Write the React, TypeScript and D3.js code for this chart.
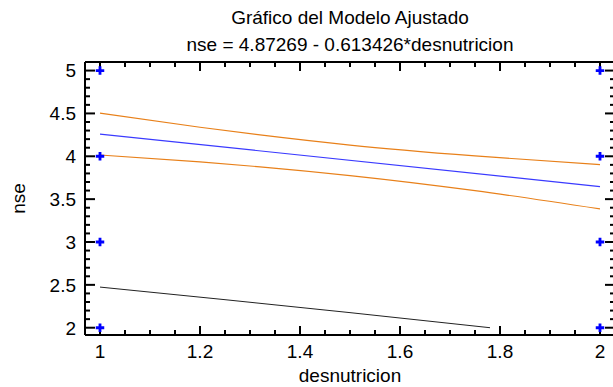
import React, { useEffect, useRef } from "react";
import * as d3 from "d3";

const W = 613;
const H = 387;

const title = "Gráfico del Modelo Ajustado";
const subtitle = "nse = 4.87269 - 0.613426*desnutricion";
const xLabel = "desnutricion";
const yLabel = "nse";

const xTicks = [1, 1.2, 1.4, 1.6, 1.8, 2];
const yTicks = [2, 2.5, 3, 3.5, 4, 4.5, 5];

const obsX = [1, 1, 1, 1, 2, 2, 2, 2];
const obsY = [5, 4, 3, 2, 5, 4, 3, 2];

const fitX = [1, 2];
const fitY = [4.25926, 3.64584];

const ciX = [1, 1.2, 1.32, 1.5, 1.75, 2];
const ciUpper = [4.504, 4.339, 4.249, 4.131, 4.004, 3.902];
const ciLower = [4.015, 3.934, 3.877, 3.775, 3.599, 3.386];

const piX = [1, 1.25, 1.5, 1.78];
const piLower = [2.474, 2.327, 2.176, 2.0];

export default function App() {
  const ref = useRef<SVGSVGElement>(null);

  useEffect(() => {
    const svg = d3.select(ref.current);
    svg.selectAll("*").remove();

    const left = 85, right = 615, top = 62, bottom = 335;
    const x = d3.scaleLinear().domain([0.97, 2.03]).range([left, right]);
    const y = d3.scaleLinear().domain([1.915, 5.1]).range([bottom, top]);

    const font = "'Liberation Sans', Arial, sans-serif";
    const fs = 19;

    svg.append("rect").attr("width", W).attr("height", H).attr("fill", "white");

    // titles
    svg.append("text").attr("x", 350).attr("y", 24).attr("text-anchor", "middle")
      .attr("font-family", font).attr("font-size", fs).attr("fill", "#000").text(title);
    svg.append("text").attr("x", 350).attr("y", 51).attr("text-anchor", "middle")
      .attr("font-family", font).attr("font-size", fs).attr("fill", "#000").text(subtitle);

    const g = svg.append("g");

    const line = d3.line<[number, number]>().x(d => x(d[0])).y(d => y(d[1])).curve(d3.curveMonotoneX);
    const mk = (xs: number[], ys: number[]) => xs.map((v, i) => [v, ys[i]] as [number, number]);

    g.append("path").attr("d", line(mk(piX, piLower))!).attr("fill", "none").attr("stroke", "#222").attr("stroke-width", 1);
    g.append("path").attr("d", line(mk(ciX, ciUpper))!).attr("fill", "none").attr("stroke", "#e8801a").attr("stroke-width", 1.2);
    g.append("path").attr("d", line(mk(ciX, ciLower))!).attr("fill", "none").attr("stroke", "#e8801a").attr("stroke-width", 1.2);
    g.append("path").attr("d", line(mk(fitX, fitY))!).attr("fill", "none").attr("stroke", "#3a3aff").attr("stroke-width", 1.2);

    // frame
    const axisColor = "#000";
    svg.append("line").attr("x1", left).attr("x2", right).attr("y1", top).attr("y2", top).attr("stroke", axisColor).attr("stroke-width", 2);
    svg.append("line").attr("x1", left).attr("x2", right).attr("y1", bottom).attr("y2", bottom).attr("stroke", axisColor).attr("stroke-width", 2);
    svg.append("line").attr("x1", left).attr("x2", left).attr("y1", top).attr("y2", bottom).attr("stroke", axisColor).attr("stroke-width", 2);
    svg.append("line").attr("x1", right).attr("x2", right).attr("y1", top).attr("y2", bottom).attr("stroke", axisColor).attr("stroke-width", 2);

    // x ticks
    const xMinor = d3.range(0, 22).map(i => 1 + i * 0.05).filter(v => v <= 2.03 && v >= 0.97);
    xMinor.forEach(v => {
      const major = Math.abs(v * 5 - Math.round(v * 5)) < 1e-6;
      const len = major ? 9 : 5;
      svg.append("line").attr("x1", x(v)).attr("x2", x(v)).attr("y1", bottom).attr("y2", bottom - len).attr("stroke", axisColor).attr("stroke-width", 2);
      svg.append("line").attr("x1", x(v)).attr("x2", x(v)).attr("y1", top).attr("y2", top + len).attr("stroke", axisColor).attr("stroke-width", 2);
    });
    xTicks.forEach(v => {
      svg.append("text").attr("x", x(v)).attr("y", 358).attr("text-anchor", "middle")
        .attr("font-family", font).attr("font-size", fs).attr("fill", "#000").text(String(v));
    });

    // y ticks
    const yMinor = d3.range(0, 31).map(i => 2 + i * 0.1);
    yMinor.forEach(v => {
      const major = Math.abs(v * 2 - Math.round(v * 2)) < 1e-6;
      const len = major ? 10 : 5;
      svg.append("line").attr("x1", left).attr("x2", left + len).attr("y1", y(v)).attr("y2", y(v)).attr("stroke", axisColor).attr("stroke-width", 2);
      svg.append("line").attr("x1", right).attr("x2", right - len).attr("y1", y(v)).attr("y2", y(v)).attr("stroke", axisColor).attr("stroke-width", 2);
    });
    yTicks.forEach(v => {
      svg.append("text").attr("x", 76).attr("y", y(v)).attr("dy", "0.36em").attr("text-anchor", "end")
        .attr("font-family", font).attr("font-size", fs).attr("fill", "#000").text(String(v));
    });

    // axis labels
    svg.append("text").attr("x", x(1.5)).attr("y", 382).attr("text-anchor", "middle")
      .attr("font-family", font).attr("font-size", fs).attr("fill", "#000").text(xLabel);
    svg.append("text").attr("transform", `translate(25, ${(top + bottom) / 2}) rotate(-90)`).attr("text-anchor", "middle")
      .attr("font-family", font).attr("font-size", fs).attr("fill", "#000").text(yLabel);

    // points
    const plus = d3.symbol().type(d3.symbolCross).size(40);
    svg.append("g").selectAll("path").data(obsX.map((v, i) => [v, obsY[i]]))
      .join("path")
      .attr("transform", d => `translate(${x(d[0])},${y(d[1])})`)
      .attr("d", plus()!)
      .attr("fill", "#0000ff");
  }, []);

  return (
    <svg ref={ref} width={W} height={H} style={{ position: "absolute", left: 0, top: 0 }} />
  );
}
